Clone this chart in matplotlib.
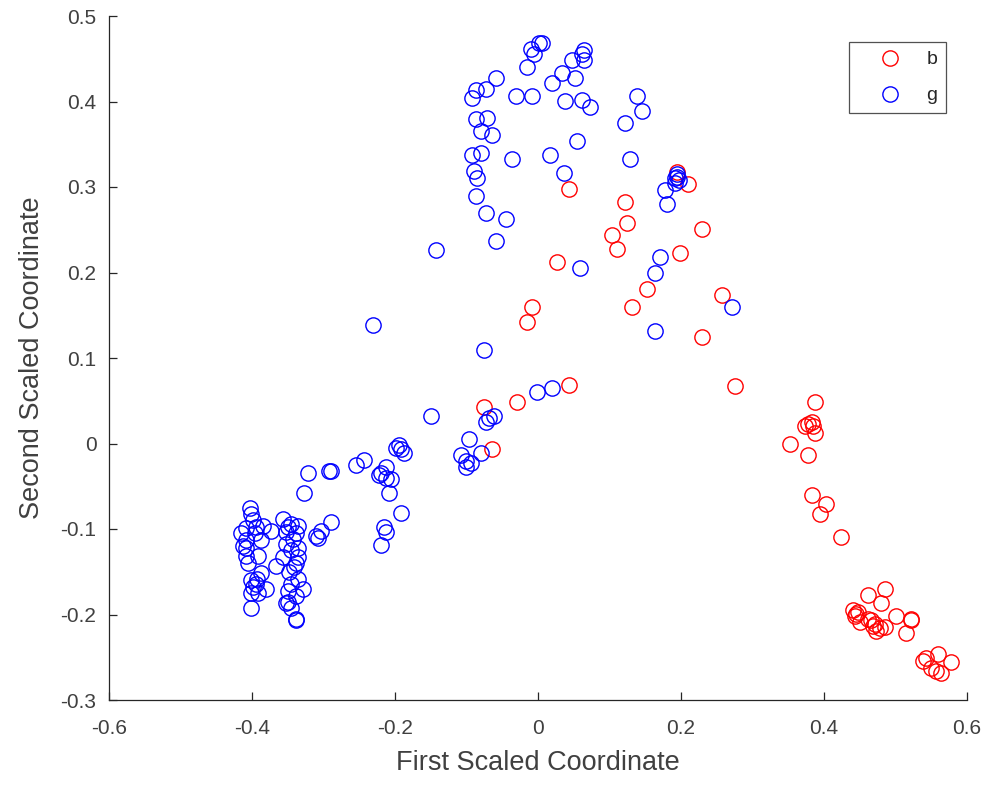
import matplotlib
matplotlib.use("Agg")
import matplotlib.pyplot as plt

# group "b" (red)
b_x = [0.043, 0.195, 0.210, 0.121, 0.124, 0.104, 0.111, 0.229, 0.027, 0.199,
       0.152, 0.131, 0.257, 0.229, -0.009, -0.016, 0.043, -0.029, -0.075, -0.065,
       0.276, 0.387, 0.378, 0.383, 0.385, 0.374, 0.388, 0.353, 0.377, 0.383,
       0.403, 0.395, 0.424, 0.485, 0.462, 0.480, 0.445, 0.441, 0.444, 0.451,
       0.466, 0.462, 0.472, 0.479, 0.473, 0.486, 0.501, 0.521, 0.522, 0.514,
       0.542, 0.539, 0.560, 0.577, 0.556, 0.563, 0.550, 0.447, 0.468]
b_y = [0.298, 0.317, 0.304, 0.282, 0.258, 0.244, 0.228, 0.251, 0.212, 0.223,
       0.181, 0.160, 0.174, 0.125, 0.160, 0.142, 0.069, 0.049, 0.043, -0.006,
       0.067, 0.048, 0.023, 0.025, 0.021, 0.020, 0.012, -0.001, -0.013, -0.060,
       -0.071, -0.083, -0.109, -0.170, -0.177, -0.187, -0.199, -0.195, -0.202, -0.209,
       -0.207, -0.205, -0.211, -0.216, -0.219, -0.215, -0.202, -0.207, -0.205, -0.222,
       -0.251, -0.254, -0.246, -0.256, -0.266, -0.268, -0.263, -0.197, -0.214]

# group "g" (blue)
g_x = [0.001, 0.005, -0.010, -0.006, -0.015, 0.064, 0.061, 0.047, 0.064, 0.052,
       0.033, 0.019, -0.059, -0.073, -0.087, -0.093, -0.031, -0.009, 0.038, 0.061,
       0.073, 0.138, 0.145, 0.121, -0.087, -0.072, -0.080, -0.064, 0.055, -0.092,
       -0.080, -0.036, 0.017, 0.129, -0.089, -0.086, 0.037, -0.087, -0.073, -0.045,
       -0.059, -0.142, 0.059, 0.191, 0.194, 0.197, 0.192, 0.195, 0.177, 0.180,
       0.171, 0.163, 0.163, 0.272, -0.231, -0.075, 0.019, -0.002, -0.069, -0.062,
       -0.073, -0.149, -0.097, -0.080, -0.107, -0.100, -0.101, -0.094, -0.195, -0.191,
       -0.188, -0.198, -0.244, -0.254, -0.219, -0.223, -0.212, -0.213, -0.206, -0.209,
       -0.192, -0.216, -0.213, -0.219, -0.293, -0.289, -0.322, -0.327, -0.289, -0.304,
       -0.310, -0.307,
       -0.403, -0.401, -0.409, -0.395, -0.384, -0.374, -0.409, -0.408, -0.409, -0.391,
       -0.405, -0.402, -0.395, -0.388, -0.381, -0.402, -0.391, -0.402, -0.356, -0.346,
       -0.335, -0.353, -0.339, -0.353, -0.335, -0.346, -0.356, -0.335, -0.339, -0.366,
       -0.345, -0.328, -0.335, -0.349, -0.352, -0.346, -0.338, -0.338, -0.398, -0.388,
       -0.396, -0.343, -0.349, -0.341, -0.398, -0.393, -0.348, -0.338, -0.350, -0.415,
       -0.412]
g_y = [0.468, 0.468, 0.461, 0.456, 0.440, 0.460, 0.456, 0.448, 0.448, 0.427,
       0.433, 0.422, 0.427, 0.415, 0.413, 0.404, 0.406, 0.406, 0.401, 0.402,
       0.394, 0.406, 0.389, 0.375, 0.379, 0.381, 0.366, 0.361, 0.354, 0.338,
       0.340, 0.333, 0.338, 0.333, 0.319, 0.310, 0.316, 0.289, 0.270, 0.263,
       0.237, 0.226, 0.205, 0.310, 0.312, 0.308, 0.305, 0.315, 0.296, 0.280,
       0.218, 0.199, 0.132, 0.160, 0.139, 0.109, 0.065, 0.060, 0.030, 0.032,
       0.025, 0.032, 0.005, -0.011, -0.014, -0.020, -0.028, -0.023, -0.002, -0.006,
       -0.011, -0.005, -0.019, -0.025, -0.034, -0.037, -0.028, -0.040, -0.041, -0.058,
       -0.081, -0.098, -0.104, -0.119, -0.032, -0.032, -0.035, -0.058, -0.092, -0.102,
       -0.108, -0.110,
       -0.076, -0.082, -0.099, -0.098, -0.096, -0.102, -0.113, -0.122, -0.131, -0.131,
       -0.140, -0.160, -0.164, -0.152, -0.170, -0.175, -0.175, -0.192, -0.088, -0.094,
       -0.096, -0.104, -0.105, -0.117, -0.122, -0.125, -0.133, -0.133, -0.140, -0.143,
       -0.164, -0.170, -0.158, -0.172, -0.187, -0.192, -0.205, -0.207, -0.090, -0.113,
       -0.105, -0.112, -0.098, -0.145, -0.168, -0.158, -0.150, -0.178, -0.185, -0.105,
       -0.120]

txt = '#404040'
plt.rcParams['font.family'] = ['Liberation Sans', 'DejaVu Sans']

fig = plt.figure(figsize=(9.95, 7.86), dpi=100)
ax = fig.add_axes([109 / 995, 1 - 700 / 786, (967 - 109) / 995, (700 - 16) / 786])

ax.plot(b_x, b_y, 'o', mfc='none', mec=(1, 0, 0), ms=11, mew=1.0, label='b')
ax.plot(g_x, g_y, 'o', mfc='none', mec=(0, 0, 1), ms=11, mew=1.0, label='g')

ax.set_xlim(-0.6, 0.6)
ax.set_ylim(-0.3, 0.5)
ax.set_xticks([-0.6, -0.4, -0.2, 0, 0.2, 0.4, 0.6])
ax.set_xticklabels(['-0.6', '-0.4', '-0.2', '0', '0.2', '0.4', '0.6'])
ax.set_yticks([-0.3, -0.2, -0.1, 0, 0.1, 0.2, 0.3, 0.4, 0.5])
ax.set_yticklabels(['-0.3', '-0.2', '-0.1', '0', '0.1', '0.2', '0.3', '0.4', '0.5'])

ax.spines['top'].set_visible(False)
ax.spines['right'].set_visible(False)
for s in ['left', 'bottom']:
    ax.spines[s].set_color('#262626')
    ax.spines[s].set_linewidth(0.9)
ax.tick_params(direction='in', length=6, width=0.9, color='#262626',
               labelsize=15, labelcolor=txt)
ax.tick_params(axis='x', pad=14)
ax.tick_params(axis='y', pad=9)

ax.set_xlabel('First Scaled Coordinate', fontsize=19.5, color=txt, labelpad=8)
ax.set_ylabel('Second Scaled Coordinate', fontsize=19.5, color=txt, labelpad=11)

leg = ax.legend(loc='upper right', bbox_to_anchor=(946 / 995, 1 - 42 / 786),
                bbox_transform=fig.transFigure, borderaxespad=0, fontsize=14,
                frameon=True, fancybox=False, handlelength=3.3, handletextpad=0.2,
                labelspacing=0.95, borderpad=0.45)
leg.get_frame().set_edgecolor('#262626')
leg.get_frame().set_linewidth(0.9)
for t in leg.get_texts():
    t.set_color('#262626')

fig.savefig('out.png', dpi=100)
